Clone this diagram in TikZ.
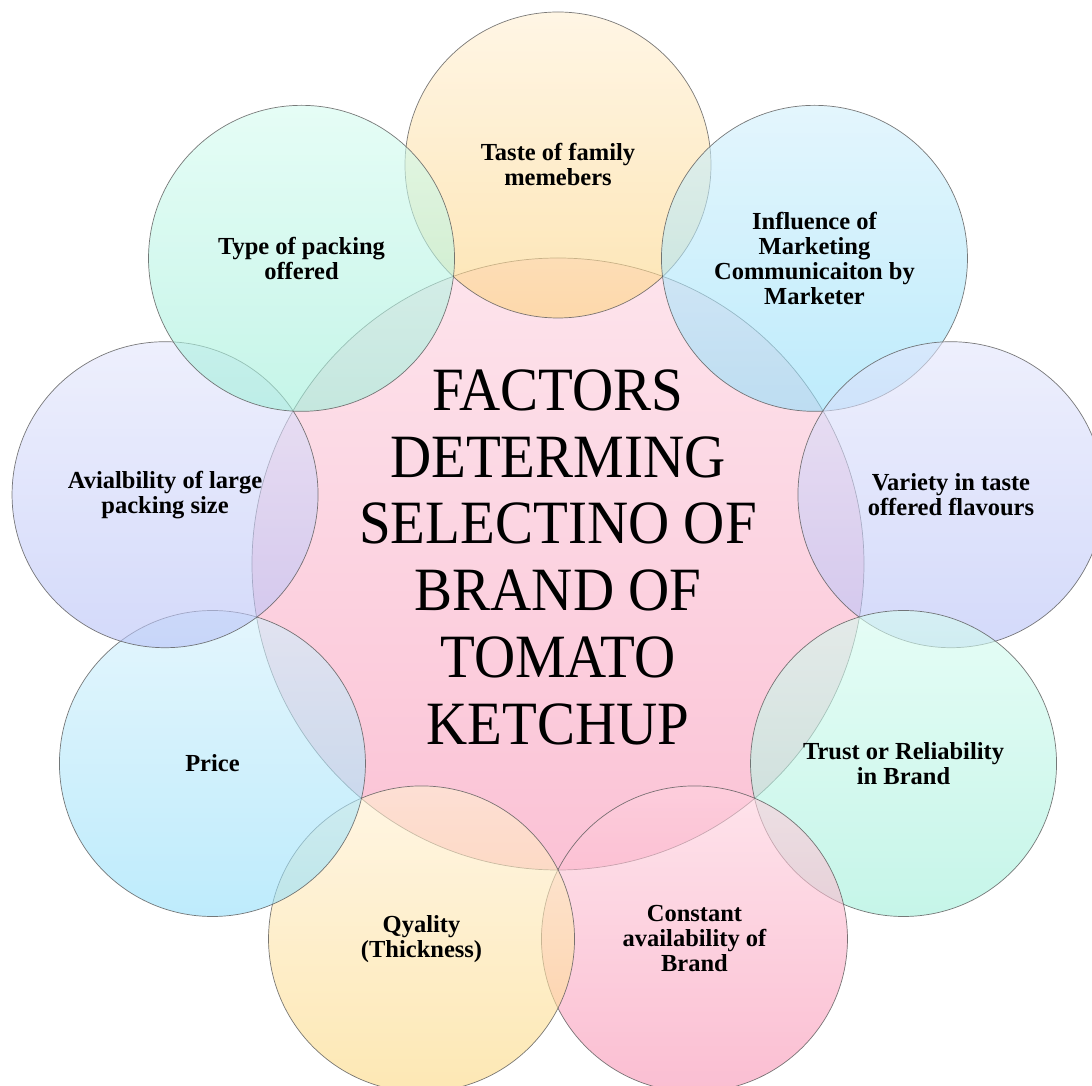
\documentclass[tikz,border=0pt]{standalone}
\usepackage{fontspec}
\setmainfont{Liberation Serif}
\definecolor{ctrT}{RGB}{253,228,236}
\definecolor{ctrB}{RGB}{251,194,213}
\definecolor{tasteT}{RGB}{255,240,212}
\definecolor{tasteB}{RGB}{253,212,130}
\definecolor{blueT}{RGB}{210,240,252}
\definecolor{blueB}{RGB}{147,223,250}
\definecolor{lavT}{RGB}{227,230,252}
\definecolor{lavB}{RGB}{183,193,247}
\definecolor{mintT}{RGB}{213,252,240}
\definecolor{mintB}{RGB}{160,239,218}
\definecolor{pinkT}{RGB}{255,210,223}
\definecolor{pinkB}{RGB}{248,147,180}
\definecolor{yelT}{RGB}{255,240,210}
\definecolor{yelB}{RGB}{253,217,130}
\begin{document}
\begin{tikzpicture}[x=1pt,y=1pt,
  outer/.style={circle, minimum size=306pt, inner sep=0pt, draw=black!65,
    line width=0.7pt, fill opacity=0.6, draw opacity=0.8, text opacity=1,
    font=\bfseries\fontsize{24.5}{25}\selectfont, align=center},
  hub/.style={circle, minimum size=612pt, inner sep=0pt, draw=black!65,
    line width=0.7pt, draw opacity=0.8, top color=ctrT, bottom color=ctrB,
    font=\fontsize{57}{61.8}\selectfont, align=center}]
\useasboundingbox (-558,-522) rectangle (534,564);
\clip (-558,-522) rectangle (534,564);
\fill[white] (-558,-522) rectangle (534,564);
\node[hub] (c) at (0,0) {\scalebox{1}[1.08]{\begin{tabular}{@{}c@{}}FACTORS\\DETERMING\\SELECTINO OF\\BRAND OF\\TOMATO\\KETCHUP\end{tabular}}};
\node[outer, top color=tasteT, bottom color=tasteB] (taste) at (90:399) {Taste of family\\memebers};
\node[outer, top color=blueT, bottom color=blueB] (infl) at (50:399) {Influence of\\Marketing\\Communicaiton by\\Marketer};
\node[outer, top color=lavT, bottom color=lavB] (var) at (10:399) {Variety in taste\\offered flavours};
\node[outer, top color=mintT, bottom color=mintB] (trust) at (-30:399) {Trust or Reliability\\in Brand};
\node[outer, top color=pinkT, bottom color=pinkB] (const) at (-70:399) {Constant\\availability of\\Brand};
\node[outer, top color=yelT, bottom color=yelB] (qual) at (-110:399) {Qyality\\(Thickness)};
\node[outer, top color=blueT, bottom color=blueB] (price) at (-150:399) {Price};
\node[outer, top color=lavT, bottom color=lavB] (avail) at (170:399) {Avialbility of large\\packing size};
\node[outer, top color=mintT, bottom color=mintB] (type) at (130:399) {Type of packing\\offered};
\end{tikzpicture}
\end{document}
